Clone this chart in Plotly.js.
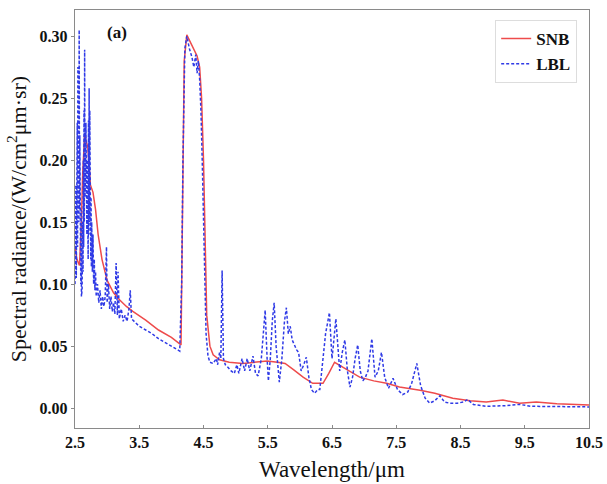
<!DOCTYPE html>
<html><head><meta charset="utf-8">
<script src="https://cdn.plot.ly/plotly-3.0.1.min.js"></script>
<style>html,body{margin:0;padding:0;background:#fff}#chart{width:607px;height:484px}</style>
</head><body><div id="chart"></div>
<script>
// SNB (statistical narrow band) curve
const snbX = [2.50,2.53,2.57,2.60,2.62,2.65,2.70,2.74,2.78,2.82,2.86,2.92,3.00,3.10,3.20,3.30,3.40,3.60,3.80,4.00,4.15,
  4.17,4.20,4.24,4.32,4.40,4.44,4.47,4.50,4.52,4.55,4.60,4.65,4.75,4.90,5.11,5.30,5.49,5.65,5.77,5.90,6.05,6.20,6.36,6.45,6.54,6.70,6.93,7.15,7.35,7.55,7.87,8.10,8.38,8.65,8.90,9.16,9.42,9.68,10.00,10.50];
const snbY = [0.130,0.120,0.115,0.150,0.190,0.220,0.210,0.180,0.174,0.160,0.140,0.120,0.103,0.093,0.087,0.082,0.078,0.071,0.063,0.057,0.051,
  0.150,0.280,0.301,0.292,0.284,0.275,0.250,0.200,0.150,0.075,0.050,0.043,0.039,0.037,0.036,0.037,0.038,0.037,0.036,0.031,0.025,0.020,0.020,0.028,0.037,0.032,0.025,0.022,0.020,0.017,0.0145,0.012,0.008,0.006,0.005,0.0065,0.004,0.005,0.0035,0.0025];

// LBL (line by line) curve
const lblX = [2.500,2.505,2.510,2.515,2.520,2.525,2.530,2.535,2.540,2.545,2.550,2.555,2.560,2.565,2.570,2.575,2.580,2.585,2.590,2.595,
  2.600,2.605,2.610,2.620,2.625,2.630,2.635,2.640,2.645,2.650,2.655,2.660,2.665,2.670,2.675,2.680,2.685,2.690,2.695,2.700,
  2.705,2.710,2.715,2.720,2.725,2.730,2.735,2.740,2.745,2.750,2.755,2.760,2.770,2.780,2.790,2.800,2.810,2.820,2.830,2.850,
  2.870,2.890,2.910,2.930,2.950,2.970,2.990,3.000,3.020,3.040,3.060,3.080,3.100,3.120,3.140,3.160,3.170,3.190,3.220,3.250,
  3.280,3.310,3.340,3.360,3.380,3.420,3.500,3.600,3.700,3.800,3.900,4.000,4.130,
  4.160,4.180,4.210,4.240,4.280,4.320,4.350,4.380,4.400,4.420,4.440,4.460,4.480,4.500,4.520,4.540,4.570,4.600,4.650,4.700,
  4.720,4.750,4.770,4.790,4.810,4.840,4.880,4.930,4.980,5.020,5.050,5.100,5.140,5.180,5.220,5.270,5.310,5.350,5.400,5.430,
  5.460,5.490,5.510,5.540,5.570,5.600,5.630,5.680,5.720,5.760,5.790,5.820,5.850,5.880,5.920,5.950,5.980,6.020,6.060,6.100,
  6.140,6.180,6.230,6.280,6.310,6.350,6.400,6.460,6.500,6.520,6.560,6.620,6.660,6.700,6.740,6.780,6.820,6.860,6.900,6.940,
  6.980,7.020,7.060,7.120,7.170,7.220,7.270,7.320,7.380,7.450,7.520,7.600,7.680,7.740,7.820,7.880,7.950,8.020,8.100,8.180,
  8.250,8.330,8.450,8.550,8.610,8.700,8.900,9.200,9.420,9.600,10.000,10.500];
const lblY = [0.100,0.180,0.110,0.180,0.105,0.175,0.120,0.230,0.130,0.275,0.140,0.270,0.150,0.305,0.160,0.220,0.120,0.180,0.100,0.160,
  0.090,0.130,0.095,0.150,0.110,0.200,0.130,0.240,0.150,0.289,0.170,0.260,0.190,0.230,0.160,0.220,0.140,0.200,0.130,0.180,
  0.120,0.232,0.140,0.258,0.150,0.240,0.140,0.200,0.120,0.170,0.114,0.150,0.110,0.140,0.100,0.120,0.095,0.110,0.090,0.100,
  0.085,0.095,0.080,0.090,0.082,0.090,0.130,0.085,0.100,0.080,0.090,0.078,0.085,0.076,0.117,0.075,0.110,0.072,0.080,0.070,
  0.075,0.070,0.080,0.095,0.072,0.070,0.066,0.063,0.060,0.056,0.053,0.050,0.046,
  0.100,0.200,0.290,0.300,0.290,0.283,0.275,0.285,0.270,0.280,0.265,0.240,0.200,0.150,0.100,0.060,0.042,0.037,0.036,0.040,
  0.035,0.045,0.040,0.111,0.040,0.035,0.033,0.030,0.028,0.035,0.028,0.040,0.030,0.040,0.030,0.042,0.028,0.026,0.040,0.060,
  0.079,0.040,0.022,0.040,0.070,0.085,0.050,0.021,0.040,0.070,0.081,0.060,0.066,0.055,0.050,0.047,0.045,0.030,0.035,0.041,
  0.025,0.015,0.012,0.015,0.015,0.035,0.060,0.077,0.040,0.050,0.072,0.030,0.045,0.055,0.030,0.017,0.025,0.040,0.051,0.030,
  0.022,0.025,0.030,0.056,0.025,0.030,0.045,0.025,0.016,0.024,0.015,0.011,0.013,0.020,0.036,0.018,0.008,0.004,0.006,0.010,
  0.005,0.004,0.004,0.005,0.007,0.003,0.0015,0.002,0.003,0.0015,0.0015,0.001];

const xTicks = [2.5,3.5,4.5,5.5,6.5,7.5,8.5,9.5,10.5];
const xTickText = ['2.5','3.5','4.5','5.5','6.5','7.5','8.5','9.5','10.5'];
const yTicks = [0,0.05,0.10,0.15,0.20,0.25,0.30];
const yTickText = ['0.00','0.05','0.10','0.15','0.20','0.25','0.30'];

const serif = 'Liberation Serif, Times New Roman, serif';
const traces = [
  {x: snbX, y: snbY, name: 'SNB', type: 'scatter', mode: 'lines',
   line: {color: '#ee4b4b', width: 1.5}},
  {x: lblX, y: lblY, name: 'LBL', type: 'scatter', mode: 'lines',
   line: {color: '#2f3ae6', width: 1.5, dash: '3px,2px'}}
];
const layout = {
  width: 607, height: 484,
  margin: {l: 75, r: 18, t: 10, b: 56},
  paper_bgcolor: '#fff', plot_bgcolor: '#fff',
  showlegend: true,
  legend: {x: 0.977, xanchor: 'right', y: 0.976, yanchor: 'top',
    bordercolor: '#dddddd', borderwidth: 1, bgcolor: '#fff',
    font: {family: serif, size: 17, color: '#111', weight: 'bold'}, tracegroupgap: 0},
  xaxis: {range: [2.5, 10.5], tickvals: xTicks, ticktext: xTickText,
    showline: true, mirror: true, linecolor: '#8a8a8a', linewidth: 1.2,
    ticks: 'inside', ticklen: 3, tickcolor: '#8a8a8a', showgrid: false, zeroline: false,
    tickfont: {family: serif, size: 16, color: '#111', weight: 'bold'},
    title: {text: 'Wavelength/μm', font: {family: serif, size: 23, color: '#111'}, standoff: 10}},
  yaxis: {range: [-0.016, 0.321], tickvals: yTicks, ticktext: yTickText,
    showline: true, mirror: true, linecolor: '#8a8a8a', linewidth: 1.2,
    ticks: 'outside', ticklen: 3, tickcolor: '#8a8a8a', showgrid: false, zeroline: false,
    tickfont: {family: serif, size: 16, color: '#111', weight: 'bold'},
    title: {text: 'Spectral radiance/(W/cm<sup>2</sup>μm·sr)', font: {family: serif, size: 22, color: '#111'}, standoff: 6}},
  annotations: [{text: '(a)', xref: 'paper', yref: 'paper', x: 0.082, y: 0.947,
    xanchor: 'center', yanchor: 'middle', showarrow: false,
    font: {family: serif, size: 17, color: '#111', weight: 'bold'}}]
};
Plotly.newPlot('chart', traces, layout, {displayModeBar: false, staticPlot: true});
</script></body></html>
